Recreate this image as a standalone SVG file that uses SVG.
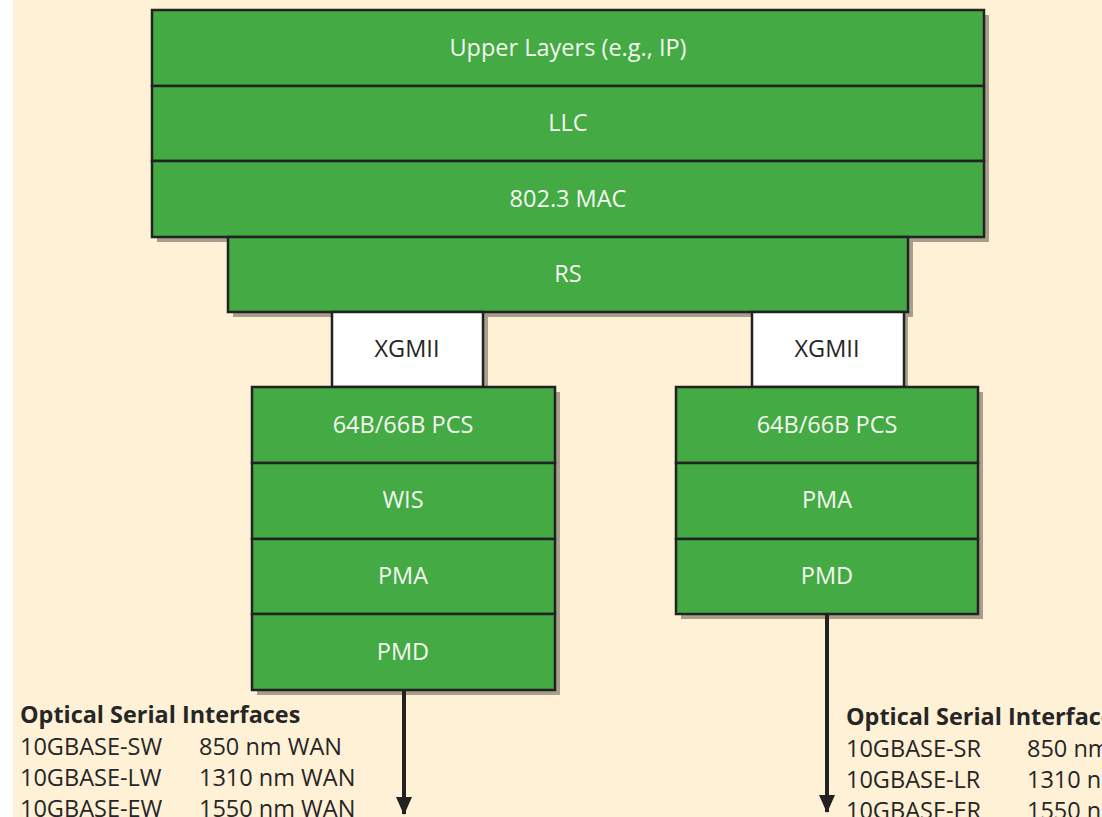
<svg xmlns="http://www.w3.org/2000/svg" width="1102" height="817" viewBox="0 0 1102 817">
<style>
.bg{fill:#fef1d6}
.sh{fill:#a89e8c}
.g{fill:#44aa44;stroke:#222;stroke-width:2.5}
.w{fill:#ffffff;stroke:#222;stroke-width:2.5}
.lt{font-family:"Open Sans","Noto Sans",sans-serif;font-size:23.5px;fill:#f4f7f0;text-anchor:middle}
.dt{font-family:"Open Sans","Noto Sans",sans-serif;font-size:23.5px;fill:#262626;text-anchor:middle}
.tx{font-family:"Open Sans","Noto Sans",sans-serif;font-size:23.5px;fill:#262626}
.hd{font-family:"Open Sans","Noto Sans",sans-serif;font-size:23.4px;font-weight:bold;fill:#262626}
.ar{stroke:#222;stroke-width:4;fill:none}
</style>
<defs>
<marker id="ah" viewBox="0 0 18 16" refX="17" refY="8" markerWidth="18" markerHeight="16" markerUnits="userSpaceOnUse" orient="auto">
<path d="M0,0 L18,8 L0,16 Z" fill="#222"/>
</marker>
</defs>
<rect x="0" y="0" width="1102" height="817" fill="#ffffff"/>
<rect class="bg" x="13" y="0" width="1089" height="817"/>
<g id="shadows">
<rect class="sh" x="157" y="15" width="832" height="227"/>
<rect class="sh" x="233" y="242" width="680" height="75"/>
<rect class="sh" x="336" y="317" width="152" height="75"/>
<rect class="sh" x="756" y="317" width="152" height="75"/>
<rect class="sh" x="257" y="392" width="303" height="303"/>
<rect class="sh" x="681" y="392" width="302" height="227"/>
</g>
<g id="upper-layers"><rect class="g" x="152" y="10" width="832" height="76"/><text class="lt" x="568" y="56">Upper Layers (e.g., IP)</text></g>
<g id="llc"><rect class="g" x="152" y="86" width="832" height="75"/><text class="lt" x="568" y="131">LLC</text></g>
<g id="mac"><rect class="g" x="152" y="161" width="832" height="76"/><text class="lt" x="568" y="207">802.3 MAC</text></g>
<g id="rs"><rect class="g" x="228" y="237" width="680" height="75"/><text class="lt" x="568" y="282">RS</text></g>
<g id="xgmii-left"><rect class="w" x="332" y="312" width="151" height="75"/><text class="dt" x="407" y="357">XGMII</text></g>
<g id="xgmii-right"><rect class="w" x="752" y="312" width="152" height="75"/><text class="dt" x="827" y="357">XGMII</text></g>
<g id="pcs-left"><rect class="g" x="252" y="387" width="303" height="76"/><text class="lt" x="403" y="433">64B/66B PCS</text></g>
<g id="wis-left"><rect class="g" x="252" y="463" width="303" height="76"/><text class="lt" x="403" y="508">WIS</text></g>
<g id="pma-left"><rect class="g" x="252" y="539" width="303" height="75"/><text class="lt" x="403" y="584">PMA</text></g>
<g id="pmd-left"><rect class="g" x="252" y="614" width="303" height="76"/><text class="lt" x="403" y="660">PMD</text></g>
<g id="pcs-right"><rect class="g" x="676" y="387" width="302" height="76"/><text class="lt" x="827" y="433">64B/66B PCS</text></g>
<g id="pma-right"><rect class="g" x="676" y="463" width="302" height="76"/><text class="lt" x="827" y="508">PMA</text></g>
<g id="pmd-right"><rect class="g" x="676" y="539" width="302" height="75"/><text class="lt" x="827" y="584">PMD</text></g>
<g id="connectors">
<line class="ar" x1="404" y1="691" x2="404" y2="814" marker-end="url(#ah)"/>
<line class="ar" x1="827" y1="615" x2="827" y2="812" marker-end="url(#ah)"/>
</g>
<g id="left-interfaces">
<text class="hd" x="20" y="723">Optical Serial Interfaces</text>
<text class="tx" x="20" y="755">10GBASE-SW</text><text class="tx" x="199" y="755">850 nm WAN</text>
<text class="tx" x="20" y="786">10GBASE-LW</text><text class="tx" x="199" y="786">1310 nm WAN</text>
<text class="tx" x="20" y="817">10GBASE-EW</text><text class="tx" x="199" y="817">1550 nm WAN</text>
</g>
<g id="right-interfaces">
<text class="hd" x="846" y="725">Optical Serial Interfaces</text>
<text class="tx" x="846" y="757">10GBASE-SR</text><text class="tx" x="1027" y="757">850 nm</text>
<text class="tx" x="846" y="788">10GBASE-LR</text><text class="tx" x="1027" y="788">1310 nm</text>
<text class="tx" x="846" y="819">10GBASE-ER</text><text class="tx" x="1027" y="819">1550 nm</text>
</g>
</svg>
